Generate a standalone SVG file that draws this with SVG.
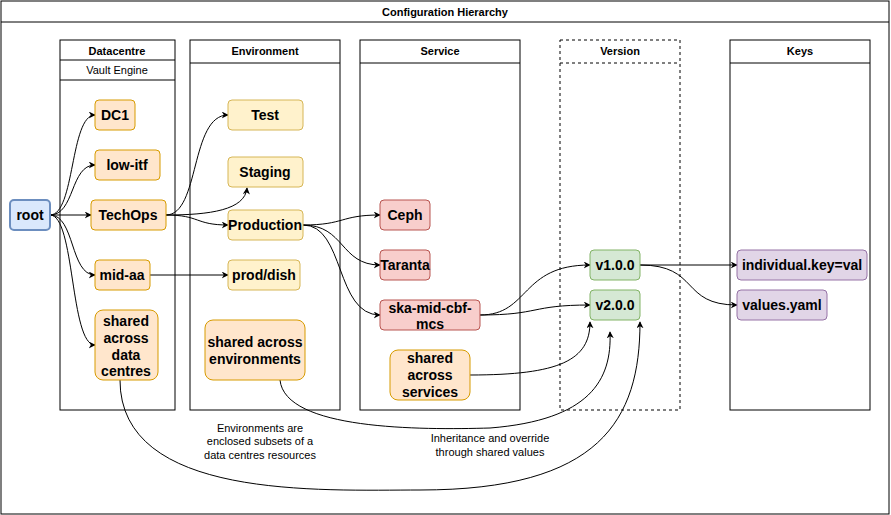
<svg xmlns="http://www.w3.org/2000/svg" width="891" height="515" viewBox="0 0 891 515">
<defs>
<marker id="ar" viewBox="0 0 10 10" refX="9" refY="5" markerWidth="7" markerHeight="7" orient="auto" markerUnits="userSpaceOnUse"><path d="M0,0 L10,5 L0,10 L3,5 z" fill="#000"/></marker>
<style>
text{font-family:"Liberation Sans",Arial,sans-serif;fill:#000;text-anchor:middle}
.h{font-size:11px;font-weight:bold}
.n{font-size:14px;font-weight:bold}
.s{font-size:11px}
.lane{fill:#fff;stroke:#000;stroke-width:1}
.dc{fill:#ffe6cc;stroke:#d79b00}
.env{fill:#fff2cc;stroke:#d6b656}
.svc{fill:#f8cecc;stroke:#b85450}
.ver{fill:#d5e8d4;stroke:#82b366}
.key{fill:#e1d5e7;stroke:#9673a6}
.e{fill:none;stroke:#000;stroke-width:1;marker-end:url(#ar)}
</style>
</defs>
<rect width="891" height="515" fill="#fff"/>
<g id="frame"><rect x="1" y="1" width="888" height="513" class="lane"/><line x1="1" y1="22" x2="889" y2="22" stroke="#000"/><text x="445" y="16" class="h">Configuration Hierarchy</text></g>
<g id="lane-dc"><rect x="60" y="40" width="115" height="370" class="lane"/><line x1="60" y1="60" x2="175" y2="60" stroke="#000"/><line x1="60" y1="80" x2="175" y2="80" stroke="#000"/><text x="117" y="55" class="h">Datacentre</text><text x="117" y="74" class="s">Vault Engine</text></g>
<g id="lane-env"><rect x="190" y="40" width="150" height="370" class="lane"/><line x1="190" y1="63" x2="340" y2="63" stroke="#000"/><text x="265" y="55" class="h">Environment</text></g>
<g id="lane-svc"><rect x="360" y="40" width="160" height="370" class="lane"/><line x1="360" y1="63" x2="520" y2="63" stroke="#000"/><text x="440" y="55" class="h">Service</text></g>
<g id="lane-ver"><rect x="560" y="40" width="120" height="370" class="lane" stroke-dasharray="3,3"/><line x1="560" y1="63" x2="680" y2="63" stroke="#000" stroke-dasharray="3,3"/><text x="620" y="55" class="h">Version</text></g>
<g id="lane-keys"><rect x="730" y="40" width="140" height="370" class="lane"/><line x1="730" y1="63" x2="870" y2="63" stroke="#000"/><text x="800" y="55" class="h">Keys</text></g>

<g id="connectors">
<path class="e" d="M50,215 C75,215 70,115 95,115"/>
<path class="e" d="M50,215 C75,215 70,165 95,165"/>
<path class="e" d="M50,215 L91,215"/>
<path class="e" d="M50,215 C75,215 70,275 95,275"/>
<path class="e" d="M50,215 C75,215 70,345 95,345"/>
<path class="e" d="M166,215 C200,215 190,115 228,115"/>
<path class="e" d="M166,215 C210,215 245,210 247,188"/>
<path class="e" d="M166,215 C200,215 195,225 228,225"/>
<path class="e" d="M150,275 L228,275"/>
<path class="e" d="M303,225 C345,225 340,215 380,215"/>
<path class="e" d="M303,225 C345,225 340,265 380,265"/>
<path class="e" d="M303,225 C345,225 335,315 380,315"/>
<path class="e" d="M480,315 C530,315 520,265 590,265"/>
<path class="e" d="M480,315 C540,315 530,305 590,305"/>
<path class="e" d="M470,375 C560,375 590,360 590,322"/>
<path class="e" d="M640,265 L737,265"/>
<path class="e" d="M640,265 C700,265 680,305 737,305"/>
<path class="e" d="M280,380 C285,430 420,430 490,428 C590,420 612,380 610,332"/>
<path class="e" d="M120,380 C120,500 320,490 420,490 C600,490 640,420 640,322"/>
</g>

<g id="labels">
<text x="260" y="432" class="s">Environments are</text><text x="260" y="445" class="s">enclosed subsets of a</text><text x="260" y="459" class="s">data centres resources</text>
<text x="490" y="442" class="s">Inheritance and override</text><text x="490" y="456" class="s">through shared values</text>
</g>

<g id="root"><rect x="10" y="200" width="40" height="30" rx="4" fill="#dae8fc" stroke="#6c8ebf" stroke-width="2"/><text x="30" y="220" class="n">root</text></g>
<g id="dc1"><rect x="95" y="100" width="40" height="30" rx="4" class="dc"/><text x="115" y="120" class="n">DC1</text></g>
<g id="lowitf"><rect x="95" y="150" width="65" height="30" rx="4" class="dc"/><text x="127" y="170" class="n">low-itf</text></g>
<g id="techops"><rect x="91" y="200" width="75" height="30" rx="4" class="dc"/><text x="128" y="220" class="n">TechOps</text></g>
<g id="midaa"><rect x="95" y="260" width="55" height="30" rx="4" class="dc"/><text x="122" y="280" class="n">mid-aa</text></g>
<g id="shareddc"><rect x="95" y="310" width="63" height="70" rx="8" class="dc"/><text x="126" y="326" class="n">shared</text><text x="126" y="343" class="n">across</text><text x="126" y="360" class="n">data</text><text x="126" y="376" class="n">centres</text></g>
<g id="test"><rect x="228" y="100" width="75" height="30" rx="4" class="env"/><text x="265" y="120" class="n">Test</text></g>
<g id="staging"><rect x="228" y="157" width="75" height="30" rx="4" class="env"/><text x="265" y="177" class="n">Staging</text></g>
<g id="production"><rect x="228" y="210" width="75" height="30" rx="4" class="env"/><text x="265" y="230" class="n">Production</text></g>
<g id="proddish"><rect x="228" y="260" width="72" height="30" rx="4" class="env"/><text x="264" y="280" class="n">prod/dish</text></g>
<g id="sharedenv"><rect x="205" y="320" width="100" height="60" rx="8" class="dc"/><text x="255" y="347" class="n">shared across</text><text x="255" y="364" class="n">environments</text></g>
<g id="ceph"><rect x="380" y="200" width="50" height="30" rx="4" class="svc"/><text x="405" y="220" class="n">Ceph</text></g>
<g id="taranta"><rect x="380" y="250" width="50" height="30" rx="4" class="svc"/><text x="405" y="270" class="n">Taranta</text></g>
<g id="ska"><rect x="380" y="300" width="100" height="30" rx="4" class="svc"/><text x="430" y="313" class="n">ska-mid-cbf-</text><text x="430" y="329" class="n">mcs</text></g>
<g id="sharedsvc"><rect x="390" y="350" width="80" height="50" rx="8" class="dc"/><text x="430" y="363" class="n">shared</text><text x="430" y="380" class="n">across</text><text x="430" y="397" class="n">services</text></g>
<g id="v1"><rect x="590" y="250" width="50" height="30" rx="4" class="ver"/><text x="615" y="270" class="n">v1.0.0</text></g>
<g id="v2"><rect x="590" y="290" width="50" height="30" rx="4" class="ver"/><text x="615" y="310" class="n">v2.0.0</text></g>
<g id="indkey"><rect x="737" y="250" width="130" height="30" rx="4" class="key"/><text x="802" y="270" class="n">individual.key=val</text></g>
<g id="valuesyaml"><rect x="737" y="290" width="90" height="30" rx="4" class="key"/><text x="782" y="310" class="n">values.yaml</text></g>
</svg>
